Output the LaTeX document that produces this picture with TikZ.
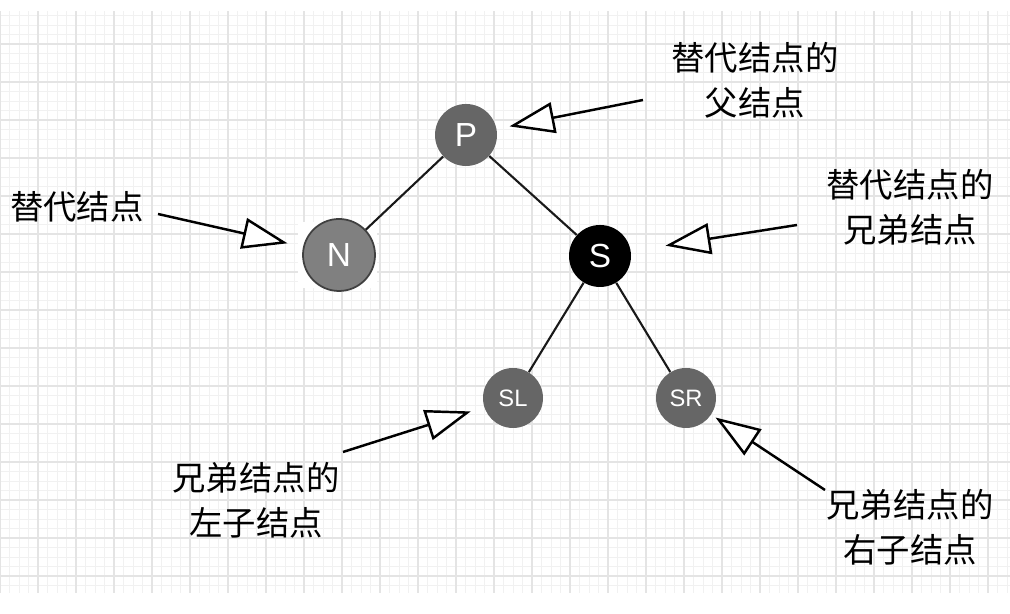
\documentclass[tikz,border=0pt]{standalone}
\usepackage{fontspec}
\setmainfont{Liberation Sans}
\newfontfamily\cjk{Noto Sans CJK SC}
\usepackage{tikz}
\usetikzlibrary{arrows.meta,positioning}
\usepackage{xcolor}
\definecolor{dtgray}{RGB}{102,102,102}
\definecolor{dtlightgray}{RGB}{128,128,128}
\definecolor{dtgrid}{RGB}{241,241,241}
\definecolor{dtgridmajor}{RGB}{228,228,228}
\tikzstyle{pointer} = [line width=1.4pt,-{Triangle[length=0.9cm,width=0.62cm,fill=white]},color=black]
\tikzstyle{treenode} = [circle, minimum size=1.24cm, inner sep=0pt, text=white, fill=dtgray, font=\fontsize{19}{21}\selectfont]
\tikzstyle{leaf} = [treenode, minimum size=1.2cm, font=\fontsize{13.5}{15}\selectfont]
\tikzstyle{caption} = [align=center, font=\cjk\fontsize{19}{25.5}\selectfont]
\tikzstyle{edge} = [line width=1.2pt, color=black!90]

\begin{document}
\begin{tikzpicture}
\useasboundingbox (0,0) rectangle (20.2,12.28);
% Grid paper
\begin{scope}
\clip (0,0.42) rectangle (20.2,12.04);
\draw[dtgrid, step=0.19cm, line width=0.4pt] (0,0) grid (20.2,12.28);
\draw[dtgridmajor, step=0.76cm, line width=0.6pt] (0,0) grid (20.2,12.28);
\end{scope}

% Tree
\node[treenode] (par) at (9.32,9.58) {P};
\node[fill=white, minimum width=1.58cm, minimum height=1.32cm, inner sep=0pt] (repbg) at (6.75,7.18) {};
\node[treenode, minimum size=1.44cm, fill=dtlightgray, draw=black!75, line width=1pt] (rep) at (6.78,7.18) {N};
\node[treenode, fill=black] (sib) at (12.0,7.16) {S};
\node[leaf] (sl) at (10.26,4.32) {SL};
\node[leaf] (sr) at (13.72,4.32) {SR};

\draw[edge] (par) -- (rep);
\draw[edge] (par) -- (sib);
\draw[edge] (sib) -- (sl);
\draw[edge] (sib) -- (sr);

% Captions
\node[caption] (parlbl) at (15.1,10.68) {替代结点的\\父结点};
\node[caption] (replbl) at (1.54,8.14) {替代结点};
\node[caption] (siblbl) at (18.2,8.14) {替代结点的\\兄弟结点};
\node[caption] (sllbl) at (5.12,2.28) {兄弟结点的\\左子结点};
\node[caption] (srlbl) at (18.2,1.74) {兄弟结点的\\右子结点};

% Pointers
\coordinate (partail) at (12.86,10.28);
\coordinate (reptail) at (3.16,8.0);
\coordinate (sibtail) at (15.94,7.78);
\coordinate (sltail) at (6.86,3.24);
\coordinate (srtail) at (16.5,2.48);
\draw[pointer, shorten >=0.26cm] (partail) -- (par);
\draw[pointer, shorten >=0.32cm] (reptail) -- (rep);
\draw[pointer, shorten >=0.7cm] (sibtail) -- (sib);
\draw[pointer, shorten >=0.28cm] (sltail) -- (sl);
\draw[pointer, shorten >=0.1cm] (srtail) -- (sr);
\end{tikzpicture}
\end{document}
